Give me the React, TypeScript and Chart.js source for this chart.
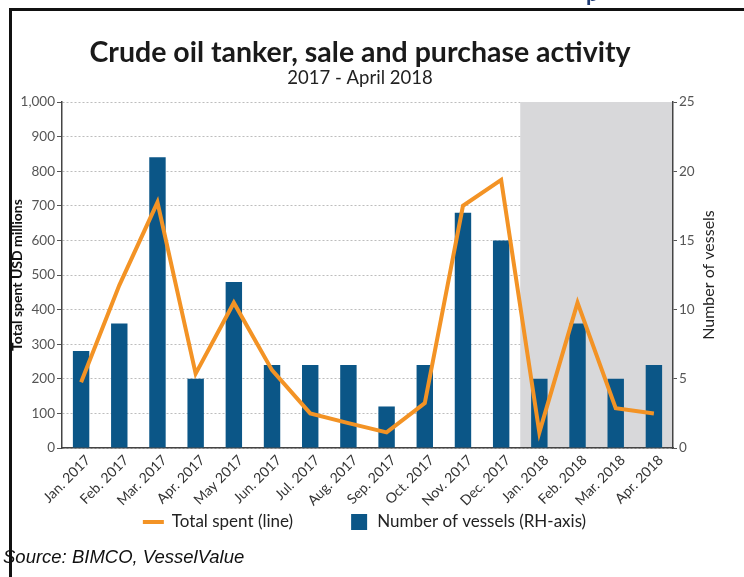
import React, { useEffect, useRef } from 'react';
import { Chart, registerables } from 'chart.js';

Chart.register(...registerables);

const months = [
  'Jan. 2017', 'Feb. 2017', 'Mar. 2017', 'Apr. 2017', 'May 2017', 'Jun. 2017',
  'Jul. 2017', 'Aug. 2017', 'Sep. 2017', 'Oct. 2017', 'Nov. 2017', 'Dec. 2017',
  'Jan. 2018', 'Feb. 2018', 'Mar. 2018', 'Apr. 2018',
];
const totalSpent = [190, 470, 710, 215, 420, 225, 100, 72, 45, 130, 700, 775, 45, 420, 115, 100];
const vessels = [7, 9, 21, 5, 12, 6, 6, 6, 3, 6, 17, 15, 5, 9, 5, 6];
const shadedFrom = 'Jan. 2018';

const titleText = 'Crude oil tanker, sale and purchase activity';
const subtitleText = '2017 - April 2018';
const leftAxisTitle = 'Total spent USD millions';
const rightAxisTitle = 'Number of vessels';
const lineLabel = 'Total spent (line)';
const barLabel = 'Number of vessels (RH-axis)';
const sourceText = 'Source: BIMCO, VesselValue';

const ORANGE = '#f39325';
const BLUE = '#0b5687';

const shadePlugin = {
  id: 'shade',
  beforeDatasetsDraw(chart: any) {
    const { ctx, chartArea, scales } = chart;
    const idx = months.indexOf(shadedFrom);
    const x0 = scales.x.getPixelForValue(idx - 0.5);
    ctx.save();
    ctx.fillStyle = '#d8d8da';
    ctx.fillRect(x0, chartArea.top, chartArea.right - 1 - x0, chartArea.bottom - 1 - chartArea.top);
    ctx.restore();
  },
};

const rightTitlePlugin = {
  id: 'rightTitle',
  afterDraw(chart: any) {
    const { ctx, chartArea } = chart;
    ctx.save();
    ctx.translate(chartArea.right + 36, (chartArea.top + chartArea.bottom) / 2);
    ctx.rotate(-Math.PI / 2);
    ctx.font = '16px Lato';
    ctx.fillStyle = '#222';
    ctx.textAlign = 'center';
    ctx.textBaseline = 'middle';
    ctx.fillText(rightAxisTitle, 0, 0);
    ctx.restore();
  },
};

// Legend drawn from the chart's own datasets, at the reference's spacing
const legendPlugin = {
  id: 'customLegend',
  afterDraw(chart: any) {
    const { ctx, chartArea } = chart;
    const fontSize = 17;
    const symW = 21;
    const symGap = 8;
    const itemGap = 55;
    ctx.save();
    ctx.font = `${fontSize}px Lato`;
    const items = chart.data.datasets.map((ds: any) => ({
      ds,
      w: symW + symGap + ctx.measureText(ds.label).width,
    }));
    const total = items.reduce((a: number, it: any) => a + it.w, 0) + itemGap * (items.length - 1);
    let x = (chartArea.left + chartArea.right) / 2 - 3 - total / 2;
    const y = 522;
    items.forEach((it: any) => {
      const ds = it.ds;
      if (ds.type === 'line') {
        ctx.strokeStyle = ds.borderColor;
        ctx.lineWidth = 4;
        ctx.beginPath();
        ctx.moveTo(x, y);
        ctx.lineTo(x + symW, y);
        ctx.stroke();
      } else {
        ctx.fillStyle = ds.backgroundColor;
        ctx.fillRect(x + 3, y - 8, 16, 16);
      }
      ctx.fillStyle = '#222';
      ctx.textAlign = 'left';
      ctx.textBaseline = 'middle';
      ctx.fillText(ds.label, x + symW + symGap, y);
      x += it.w + itemGap;
    });
    ctx.restore();
  },
};

export default function App() {
  const canvasRef = useRef<HTMLCanvasElement | null>(null);

  useEffect(() => {
    const canvas = canvasRef.current;
    if (!canvas) return;
    const chart = new Chart(canvas, {
      data: {
        labels: months,
        datasets: [
          {
            type: 'line',
            label: lineLabel,
            data: totalSpent,
            yAxisID: 'y',
            borderColor: ORANGE,
            backgroundColor: ORANGE,
            borderWidth: 4,
            pointRadius: 0,
            tension: 0,
          },
          {
            type: 'bar',
            label: barLabel,
            data: vessels,
            yAxisID: 'y1',
            backgroundColor: BLUE,
            barPercentage: 0.43,
            categoryPercentage: 1,
          },
        ],
      } as any,
      options: {
        responsive: false,
        animation: false,
        devicePixelRatio: 1,
        layout: { padding: { top: 0, left: 6, right: 30, bottom: 59 } },
        plugins: {
          title: {
            display: true,
            text: titleText,
            color: '#1a1a1a',
            font: { family: 'Lato', size: 28.5, weight: 'bold', lineHeight: 1.0 },
            padding: { top: 38.75, bottom: 0 },
          },
          subtitle: {
            display: true,
            text: subtitleText,
            color: '#222',
            font: { family: 'Lato', size: 18.5, lineHeight: 1.0 },
            padding: { top: 1.5, bottom: 14.75 },
          },
          legend: { display: false },
          tooltip: { enabled: false },
        },
        scales: {
          x: {
            offset: true,
            grid: { display: false, drawTicks: false },
            border: { display: true, color: '#444', width: 1.5 },
            ticks: {
              autoSkip: false,
              minRotation: 45,
              maxRotation: 45,
              padding: 4,
              labelOffset: 7,
              color: '#333',
              font: { family: 'Lato', size: 14 },
            },
            afterFit: (s: any) => { s.height = 70; },
          },
          y: {
            position: 'left',
            min: 0,
            max: 1000,
            ticks: {
              stepSize: 100,
              padding: 2,
              color: '#555',
              font: { family: 'Lato', size: 13.5 },
              callback: (v: any) => Number(v).toLocaleString('en-US'),
            },
            grid: {
              color: '#bdbdbd',
              tickBorderDash: [],
              tickColor: '#555',
              tickLength: 5,
            },
            border: { display: true, color: '#444', width: 1.5, dash: [2, 2] },
            title: {
              display: true,
              text: leftAxisTitle,
              color: '#111',
              font: { family: 'Lato', size: 14, weight: 'bold' },
              padding: { top: 3.5, bottom: 0 },
            },
            afterFit: (s: any) => { s.width = 56; },
          },
          y1: {
            position: 'right',
            min: 0,
            max: 25,
            ticks: {
              stepSize: 5,
              padding: 2,
              color: '#555',
              font: { family: 'Lato', size: 13.5 },
            },
            grid: { drawOnChartArea: false, tickColor: '#555', tickLength: 4 },
            border: { display: true, color: '#444', width: 1.5 },
            afterFit: (s: any) => { s.width = 41; },
          },
        },
      } as any,
      plugins: [shadePlugin, rightTitlePlugin, legendPlugin],
    });
    return () => chart.destroy();
  }, []);

  return (
    <div style={{ position: 'fixed', left: 0, top: 0, width: 744, height: 577, background: '#fff', overflow: 'hidden' }}>
      <canvas ref={canvasRef} width={744} height={577} style={{ position: 'absolute', left: 0, top: 0, width: 744, height: 577 }} />
      <div style={{ position: 'absolute', left: 586, top: 0, height: 7, width: 20, overflow: 'hidden' }}>
        <div style={{ position: 'absolute', left: 0, top: -18, font: 'bold 22px Lato', color: '#1f3b73', lineHeight: '22px' }}>p</div>
      </div>
      <div style={{ position: 'absolute', left: 3, top: 546, font: 'italic 18.5px "Liberation Sans", Arial, sans-serif', color: '#111', lineHeight: '22px', whiteSpace: 'nowrap' }}>{sourceText}</div>
      <div style={{ position: 'absolute', left: 9, top: 8, width: 735, height: 2.5, background: '#111' }} />
      <div style={{ position: 'absolute', left: 9, top: 8, width: 2.5, height: 569, background: '#111' }} />
    </div>
  );
}
